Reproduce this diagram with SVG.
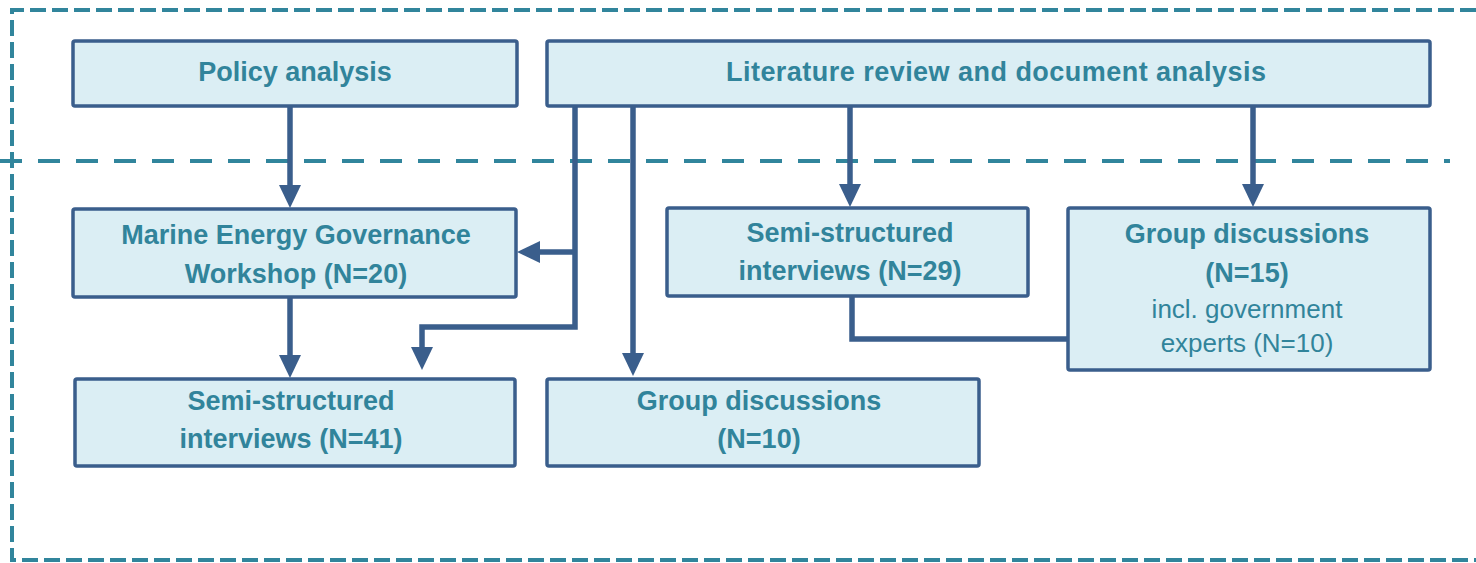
<svg xmlns="http://www.w3.org/2000/svg" width="1476" height="563" viewBox="0 0 1476 563">
<style>
.frame{fill:none;stroke:#31859C;stroke-width:4}
.box{fill:#DBEEF4;stroke:#3A5E8C;stroke-width:3.5}
.t{font-family:"Liberation Sans",Arial,sans-serif;font-weight:bold;font-size:27px;fill:#31849B;text-anchor:middle}
.r{font-family:"Liberation Sans",Arial,sans-serif;font-size:26px;fill:#31849B;text-anchor:middle}
.c{fill:none;stroke:#3A5E8C;stroke-width:5.5;stroke-linejoin:miter}
</style>
<defs>
<marker id="ah" markerUnits="userSpaceOnUse" markerWidth="24" markerHeight="24" viewBox="0 0 24 24" refX="1" refY="12" orient="auto">
<path d="M0,1 L23,12 L0,23 Z" fill="#3A5E8C"/>
</marker>
</defs>
<g id="frames">
<path class="frame" d="M1476,10 H12 V560 H1476" stroke-dasharray="16 6"/>
<path class="frame" d="M0,161 H1450" stroke-dasharray="22 16"/>
</g>
<g id="connectors">
<path class="c" d="M290,107 V186" marker-end="url(#ah)"/>
<path class="c" d="M290,297 V356" marker-end="url(#ah)"/>
<path class="c" d="M575,106 V327 H422 V348" marker-end="url(#ah)"/>
<path class="c" d="M575,252 H539" marker-end="url(#ah)"/>
<path class="c" d="M633,106 V354" marker-end="url(#ah)"/>
<path class="c" d="M850,106 V185" marker-end="url(#ah)"/>
<path class="c" d="M1253,106 V185" marker-end="url(#ah)"/>
<path class="c" d="M852,297 V339 H1068"/>
</g>
<g id="policy">
<rect class="box" x="73" y="41" width="444" height="65" rx="2"/>
<text class="t" x="295" y="81">Policy analysis</text>
</g>
<g id="literature">
<rect class="box" x="547" y="41" width="883" height="65" rx="2"/>
<text class="t" x="996" y="81" textLength="540" lengthAdjust="spacing">Literature review and document analysis</text>
</g>
<g id="workshop">
<rect class="box" x="73" y="209" width="443" height="88" rx="2"/>
<text class="t" x="296" y="244">Marine Energy Governance</text>
<text class="t" x="296" y="283">Workshop (N=20)</text>
</g>
<g id="interviews29">
<rect class="box" x="667" y="208" width="361" height="88" rx="2"/>
<text class="t" x="850" y="242">Semi-structured</text>
<text class="t" x="850" y="280">interviews (N=29)</text>
</g>
<g id="group15">
<rect class="box" x="1068" y="208" width="362" height="162" rx="2"/>
<text class="t" x="1247" y="243">Group discussions</text>
<text class="t" x="1247" y="282">(N=15)</text>
<text class="r" x="1247" y="318">incl. government</text>
<text class="r" x="1247" y="352">experts (N=10)</text>
</g>
<g id="interviews41">
<rect class="box" x="75" y="379" width="440" height="87" rx="2"/>
<text class="t" x="291" y="410">Semi-structured</text>
<text class="t" x="291" y="448">interviews (N=41)</text>
</g>
<g id="group10">
<rect class="box" x="547" y="379" width="432" height="87" rx="2"/>
<text class="t" x="759" y="410">Group discussions</text>
<text class="t" x="759" y="448">(N=10)</text>
</g>
</svg>
